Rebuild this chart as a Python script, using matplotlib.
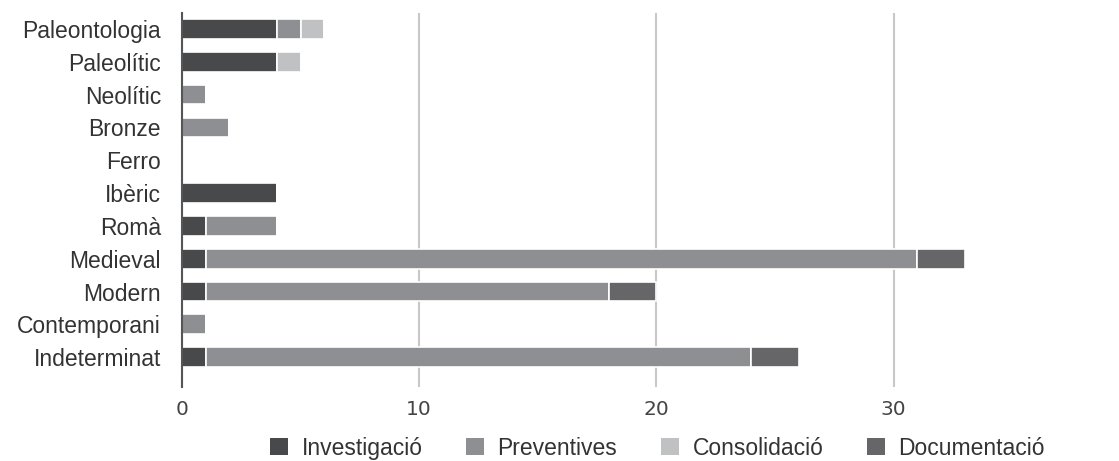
import matplotlib.pyplot as plt
from matplotlib.patches import Patch

CATEGORIES = ["Paleontologia", "Paleolític", "Neolític", "Bronze", "Ferro", "Ibèric",
              "Romà", "Medieval", "Modern", "Contemporani", "Indeterminat"]
INVESTIGACIO = [4, 4, 0, 0, 0, 4, 1, 1, 1, 0, 1]
PREVENTIVES = [1, 0, 1, 2, 0, 0, 3, 30, 17, 1, 23]
CONSOLIDACIO = [1, 1, 0, 0, 0, 0, 0, 0, 0, 0, 0]
DOCUMENTACIO = [0, 0, 0, 0, 0, 0, 0, 2, 2, 0, 2]
SERIES = [
    ("Investigació", INVESTIGACIO, "#48494b"),
    ("Preventives", PREVENTIVES, "#8e8f92"),
    ("Consolidació", CONSOLIDACIO, "#c0c1c3"),
    ("Documentació", DOCUMENTACIO, "#666668"),
]
XTICKS = [0, 10, 20, 30]

TEXT = "#333333"
GRID = "#c8c8c8"

plt.rcParams["font.family"] = ["Liberation Sans", "DejaVu Sans"]

fig = plt.figure(figsize=(11.19, 4.61), dpi=100)
ax = fig.add_axes([0.1626, 0.184, 0.8374, 0.788])

y = list(range(len(CATEGORIES)))
left = [0] * len(CATEGORIES)
for name, vals, color in SERIES:
    ax.barh(y, vals, left=left, height=0.6, color=color, edgecolor="white",
            linewidth=1.2, label=name, zorder=3)
    left = [a + b for a, b in zip(left, vals)]

ax.set_ylim(10.58, -0.49)
ax.set_xlim(0, 39.5)
ax.set_yticks(y)
ax.set_yticklabels(CATEGORIES, fontsize=16.5, color=TEXT)
ax.set_xticks(XTICKS)
ax.set_xticklabels([str(t) for t in XTICKS], fontsize=14.5, color="#444444",
                   family="DejaVu Sans")
ax.tick_params(axis="y", length=0, pad=15)
ax.tick_params(axis="x", length=8, color=GRID, width=1.5, pad=9)
ax.grid(True, axis="x", color=GRID, linewidth=1.5, zorder=0)
ax.set_axisbelow(True)
for s in ("top", "right", "bottom"):
    ax.spines[s].set_visible(False)
ax.spines["left"].set_color("#555555")
ax.spines["left"].set_linewidth(1.5)
ax.spines["left"].set_zorder(5)
ax.spines["left"].set_bounds(10.9, -0.49)

handles = [Patch(facecolor=c, edgecolor="none", label=n) for n, _, c in SERIES]
fig.legend(handles=handles, loc="lower left", bbox_to_anchor=(256 / 1119, -0.027),
           ncol=4, frameon=False, fontsize=16.5, handlelength=0.78, handleheight=0.78,
           columnspacing=1.9, handletextpad=0.6, borderpad=0.1, labelcolor=TEXT)

fig.savefig("out.png", dpi=100, facecolor="white")
